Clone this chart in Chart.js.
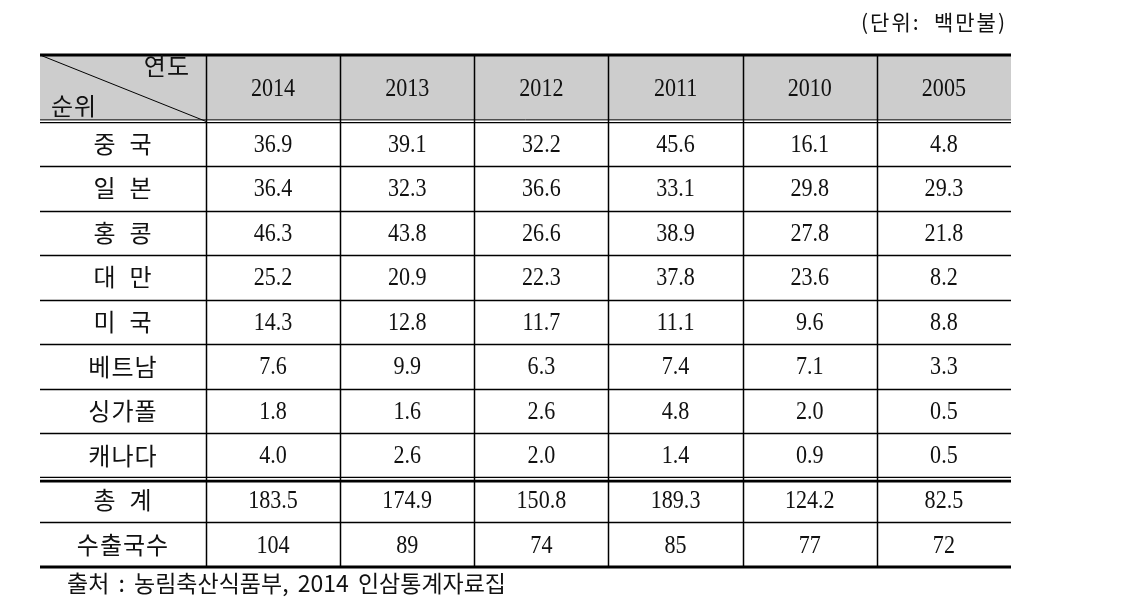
<!DOCTYPE html>
<html>
<head>
<meta charset="utf-8">
<script src="https://cdn.jsdelivr.net/npm/chart.js@4/dist/chart.umd.min.js"></script>
<style>
  html, body { margin: 0; padding: 0; background: #fff; }
  #wrap { width: 1121px; height: 608px; }
</style>
</head>
<body>
<div id="wrap"><canvas id="tbl" width="1121" height="608"></canvas></div>
<script>
// 연도 (columns)
const years = ['2014', '2013', '2012', '2011', '2010', '2005'];
// 순위 (rows)
const countries = ['중 국', '일 본', '홍 콩', '대 만', '미 국', '베트남', '싱가폴', '캐나다'];
const china     = [36.9, 39.1, 32.2, 45.6, 16.1, 4.8];
const japan     = [36.4, 32.3, 36.6, 33.1, 29.8, 29.3];
const hongkong  = [46.3, 43.8, 26.6, 38.9, 27.8, 21.8];
const taiwan    = [25.2, 20.9, 22.3, 37.8, 23.6, 8.2];
const usa       = [14.3, 12.8, 11.7, 11.1, 9.6, 8.8];
const vietnam   = [7.6, 9.9, 6.3, 7.4, 7.1, 3.3];
const singapore = [1.8, 1.6, 2.6, 4.8, 2.0, 0.5];
const canada    = [4.0, 2.6, 2.0, 1.4, 0.9, 0.5];
const totalLabel = '총 계';
const totals    = [183.5, 174.9, 150.8, 189.3, 124.2, 82.5];
const countLabel = '수출국수';
const exportCounts = [104, 89, 74, 85, 77, 72];
const unitText = '(단위:  백만불)';
const sourceText = '출처 : 농림축산식품부, 2014 인삼통계자료집';

const countryRows = [china, japan, hongkong, taiwan, usa, vietnam, singapore, canada];

// table geometry in scale units (1 x unit = one year column, 1 y unit = one body row)
const LABEL_W = 1.237;
const HEAD_H = 1.49;
const NROWS = countries.length + 2;

const KR = '"Noto Sans CJK KR", "Noto Sans", sans-serif';
const NUM = '"Liberation Serif", "DejaVu Serif", serif';

function rowsForDraw() {
    const rows = countries.map((c, i) => ({ label: c, vals: countryRows[i].map(v => v.toFixed(1)) }));
    rows.push({ label: totalLabel, vals: totals.map(v => v.toFixed(1)) });
    rows.push({ label: countLabel, vals: exportCounts.map(v => String(v)) });
    return rows;
}

function hline(ctx, x0, x1, yy, w) {
    ctx.lineWidth = w;
    ctx.beginPath();
    ctx.moveTo(x0, yy);
    ctx.lineTo(x1, yy);
    ctx.stroke();
}

// serif numbers, a bit condensed like the original Batang digits
function numText(ctx, s, x, y) {
    ctx.save();
    ctx.translate(x, y);
    ctx.scale(0.85, 1);
    ctx.fillText(s, 0, 0);
    ctx.restore();
}

const tablePlugin = {
    id: 'tablePlugin',
    afterDraw(chart) {
        const ctx = chart.ctx;
        const xs = chart.scales.x, ys = chart.scales.y;
        const px = v => xs.getPixelForValue(v);
        const py = v => ys.getPixelForValue(v);
        const left = px(0), right = px(LABEL_W + years.length);
        const colMid = i => px(LABEL_W + i + 0.5);
        const labelMid = px(LABEL_W / 2);
        const rowMid = r => py(HEAD_H + r + 0.5);

        ctx.save();
        // header background
        ctx.fillStyle = '#cdcdcd';
        ctx.fillRect(left, py(0), right - left, py(HEAD_H) - py(0) - 1.5);

        ctx.strokeStyle = '#000';
        // vertical lines
        ctx.lineWidth = 1.5;
        for (let i = 0; i < years.length; i++) {
            const xx = Math.round(px(LABEL_W + i)) + 0.5;
            ctx.beginPath();
            ctx.moveTo(xx, py(0));
            ctx.lineTo(xx, py(HEAD_H + NROWS));
            ctx.stroke();
        }
        // diagonal in corner cell
        ctx.lineWidth = 1;
        ctx.beginPath();
        ctx.moveTo(left, py(0));
        ctx.lineTo(px(LABEL_W), py(HEAD_H));
        ctx.stroke();

        // top rule
        hline(ctx, left, right, py(0), 3);
        // header double rule
        const hb = py(HEAD_H);
        hline(ctx, left, right, hb - 1.5, 1);
        hline(ctx, left, right, hb + 1.2, 1.2);
        // body rows
        for (let r = 1; r < NROWS; r++) {
            const yy = py(HEAD_H + r);
            if (r === countries.length) {
                hline(ctx, left, right, yy - 0.5, 1.2);
                hline(ctx, left, right, yy + 3.2, 2.6);
            } else {
                hline(ctx, left, right, Math.round(yy) + 0.5, 1.5);
            }
        }
        // bottom rule
        hline(ctx, left, right, py(HEAD_H + NROWS), 3);

        ctx.fillStyle = '#111';
        ctx.textBaseline = 'middle';

        // header texts
        ctx.font = '24px ' + KR;
        ctx.letterSpacing = '1px';
        ctx.textAlign = 'right';
        ctx.fillText('연도', px(LABEL_W) - 16, py(0.22) + 1);
        ctx.textAlign = 'left';
        ctx.fillText('순위', left + 11, py(1.12) + 1);
        ctx.textAlign = 'center';
        ctx.letterSpacing = '0px';
        ctx.font = '26px ' + NUM;
        years.forEach((yr, i) => numText(ctx, yr, colMid(i), py(HEAD_H / 2) + 1));

        // body texts
        rowsForDraw().forEach((row, r) => {
            ctx.font = '24px ' + KR;
            ctx.letterSpacing = '1px';
            ctx.fillText(row.label.replace(' ', '\u2002'), labelMid, rowMid(r));
            ctx.letterSpacing = '0px';
            ctx.font = '26px ' + NUM;
            row.vals.forEach((v, i) => numText(ctx, v, colMid(i), rowMid(r) + 1));
        });

        // unit note and source
        ctx.font = '21px ' + KR;
        ctx.letterSpacing = '2px';
        ctx.textAlign = 'right';
        ctx.fillText(unitText, right - 4, py(0) - 33);
        ctx.font = '23px ' + KR;
        ctx.letterSpacing = '0px';
        ctx.wordSpacing = '4px';
        ctx.textAlign = 'left';
        ctx.fillText(sourceText, left + 27, py(HEAD_H + NROWS) + 16);
        ctx.restore();
    }
};

new Chart(document.getElementById('tbl'), {
    type: 'scatter',
    data: { datasets: [] },
    options: {
        responsive: false,
        animation: false,
        devicePixelRatio: 1,
        layout: { padding: { left: 40, right: 110, top: 55, bottom: 41 } },
        plugins: { legend: { display: false }, tooltip: { enabled: false } },
        scales: {
            x: { type: 'linear', min: 0, max: LABEL_W + years.length, display: false },
            y: { type: 'linear', min: 0, max: HEAD_H + NROWS, reverse: true, display: false }
        }
    },
    plugins: [tablePlugin]
});
</script>
</body>
</html>
